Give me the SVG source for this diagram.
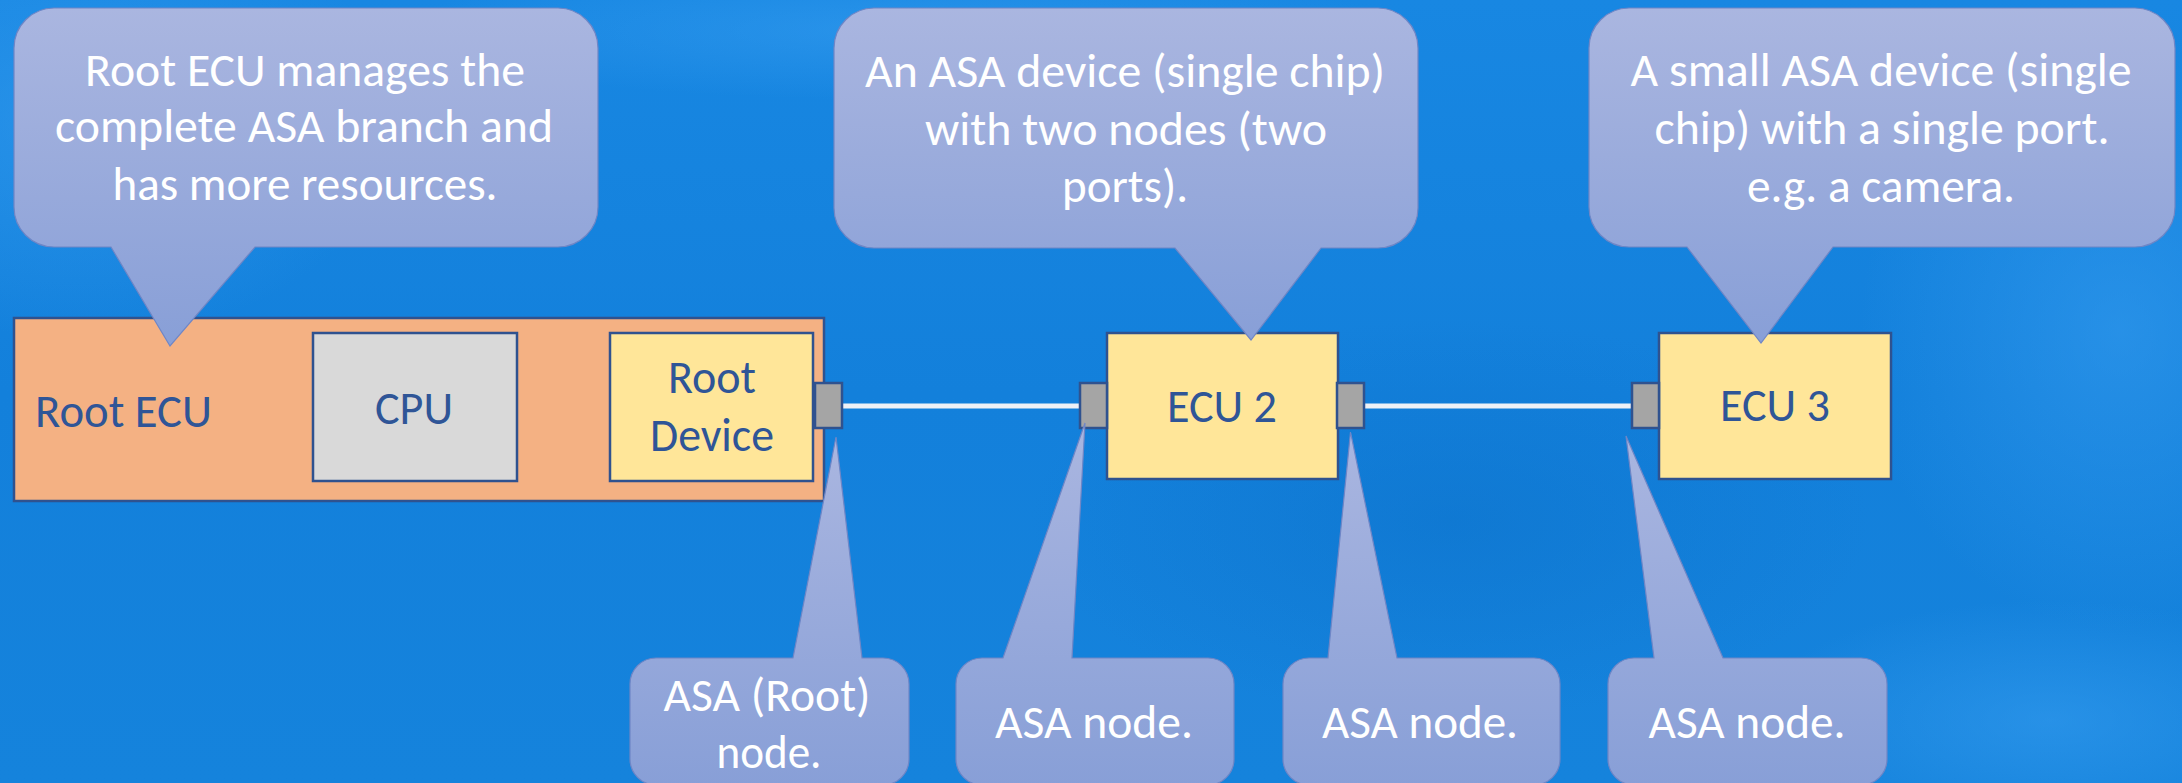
<svg xmlns="http://www.w3.org/2000/svg" width="2182" height="783" viewBox="0 0 2182 783">
  <defs>
    <linearGradient id="bg" x1="0" y1="0" x2="0" y2="1">
      <stop offset="0" stop-color="#1887E2"/>
      <stop offset="0.5" stop-color="#1380DB"/>
      <stop offset="1" stop-color="#1583DC"/>
    </linearGradient>
    <radialGradient id="glowA" cx="0.5" cy="0.5" r="0.5">
      <stop offset="0" stop-color="#3AA0F2" stop-opacity="0.5"/>
      <stop offset="1" stop-color="#3AA0F2" stop-opacity="0"/>
    </radialGradient>
    <radialGradient id="glowB" cx="0.5" cy="0.5" r="0.5">
      <stop offset="0" stop-color="#0B6FC8" stop-opacity="0.45"/>
      <stop offset="1" stop-color="#0B6FC8" stop-opacity="0"/>
    </radialGradient>
    <linearGradient id="bubble" x1="0" y1="0" x2="0" y2="1">
      <stop offset="0" stop-color="#AAB6E0"/>
      <stop offset="1" stop-color="#889FD7"/>
    </linearGradient>
    <style>
      .bubble { fill: url(#bubble); stroke: #6F86C6; stroke-width: 1.2; }
      .note { font-family: Carlito, Calibri, Lato, sans-serif; font-size: 48px; fill: #FFFFFF; text-anchor: middle; }
      .label { font-family: Carlito, Calibri, Lato, sans-serif; font-size: 48px; fill: #2F5597; text-anchor: middle; }
      .box { stroke: #2F528F; stroke-width: 2.5; }
      .ecu { fill: #F4B183; }
      .cpu { fill: #D9D9D9; }
      .dev { fill: #FFE699; }
      .port { fill: #A5A5A5; stroke: #2F528F; stroke-width: 2.5; }
      .link { stroke: #EEF1F6; stroke-width: 5; fill: none; }
      .bus { stroke: #4472C4; stroke-width: 4; fill: none; }
    </style>
  </defs>

  <!-- background -->
  <rect x="0" y="0" width="2182" height="783" fill="url(#bg)"/>
  <ellipse cx="80" cy="120" rx="320" ry="220" fill="url(#glowA)"/>
  <ellipse cx="2120" cy="330" rx="260" ry="300" fill="url(#glowA)"/>
  <ellipse cx="900" cy="30" rx="500" ry="70" fill="url(#glowA)"/>
  <ellipse cx="1450" cy="520" rx="420" ry="200" fill="url(#glowB)"/>
  <ellipse cx="2050" cy="720" rx="300" ry="120" fill="url(#glowA)"/>

  <!-- links between nodes -->
  <g id="connectors">
    <line class="bus" x1="516" y1="407" x2="610" y2="407"/>
    <line class="link" x1="842" y1="406" x2="1079" y2="406"/>
    <line class="link" x1="1364" y1="406" x2="1632" y2="406"/>
  </g>

  <!-- Root ECU with CPU and root device -->
  <g id="root-ecu">
    <rect class="box ecu" x="14" y="318" width="810" height="183"/>
    <text class="label" x="123.5" y="427" textLength="177" lengthAdjust="spacingAndGlyphs">Root ECU</text>
  </g>
  <g id="cpu">
    <rect class="box cpu" x="313" y="333" width="204" height="148"/>
    <text class="label" x="414" y="424" textLength="78" lengthAdjust="spacingAndGlyphs">CPU</text>
  </g>
  <g id="root-device">
    <rect class="box dev" x="610" y="333" width="203" height="148"/>
    <text class="label" x="712" y="393" textLength="88" lengthAdjust="spacingAndGlyphs">Root</text>
    <text class="label" x="712" y="451" textLength="124" lengthAdjust="spacingAndGlyphs">Device</text>
    <rect class="port" x="815" y="383" width="27" height="45"/>
  </g>

  <!-- ECU 2: two ports -->
  <g id="ecu2">
    <rect class="box dev" x="1107" y="333" width="231" height="146"/>
    <text class="label" x="1222" y="422" textLength="110" lengthAdjust="spacingAndGlyphs">ECU 2</text>
    <rect class="port" x="1080" y="383" width="27" height="45"/>
    <rect class="port" x="1337" y="383" width="27" height="45"/>
  </g>

  <!-- ECU 3: single port -->
  <g id="ecu3">
    <rect class="box dev" x="1659" y="333" width="232" height="146"/>
    <text class="label" x="1775" y="421" textLength="110" lengthAdjust="spacingAndGlyphs">ECU 3</text>
    <rect class="port" x="1632" y="383" width="27" height="45"/>
  </g>

  <!-- upper callouts -->
  <g id="note-root-ecu">
    <path class="bubble" d="M54,8 H558 A40,40 0 0 1 598,48 V207 A40,40 0 0 1 558,247 H255 L170,346 L111,247 H54 A40,40 0 0 1 14,207 V48 A40,40 0 0 1 54,8 Z"/>
    <text class="note" x="305" y="86" textLength="440" lengthAdjust="spacingAndGlyphs">Root ECU manages the</text>
    <text class="note" x="304" y="142" textLength="498" lengthAdjust="spacingAndGlyphs">complete ASA branch and</text>
    <text class="note" x="305" y="200" textLength="385" lengthAdjust="spacingAndGlyphs">has more resources.</text>
  </g>
  <g id="note-ecu2">
    <path class="bubble" d="M874,8 H1378 A40,40 0 0 1 1418,48 V208 A40,40 0 0 1 1378,248 H1321 L1251,340 L1175,248 H874 A40,40 0 0 1 834,208 V48 A40,40 0 0 1 874,8 Z"/>
    <text class="note" x="1125" y="87" textLength="520" lengthAdjust="spacingAndGlyphs">An ASA device (single chip)</text>
    <text class="note" x="1126" y="145" textLength="402" lengthAdjust="spacingAndGlyphs">with two nodes (two</text>
    <text class="note" x="1125" y="202" textLength="126" lengthAdjust="spacingAndGlyphs">ports).</text>
  </g>
  <g id="note-ecu3">
    <path class="bubble" d="M1629,8 H2135 A40,40 0 0 1 2175,48 V207 A40,40 0 0 1 2135,247 H1833 L1761,343 L1687,247 H1629 A40,40 0 0 1 1589,207 V48 A40,40 0 0 1 1629,8 Z"/>
    <text class="note" x="1881" y="86" textLength="501" lengthAdjust="spacingAndGlyphs">A small ASA device (single</text>
    <text class="note" x="1882" y="144" textLength="455" lengthAdjust="spacingAndGlyphs">chip) with a single port.</text>
    <text class="note" x="1881" y="202" textLength="268" lengthAdjust="spacingAndGlyphs">e.g. a camera.</text>
  </g>

  <!-- lower callouts pointing at the ports -->
  <g id="note-port-root">
    <path class="bubble" d="M656,658 H793 L836,437 L862,658 H883 A26,26 0 0 1 909,684 V759 A26,26 0 0 1 883,785 H656 A26,26 0 0 1 630,759 V684 A26,26 0 0 1 656,658 Z"/>
    <text class="note" x="767" y="711" textLength="207" lengthAdjust="spacingAndGlyphs">ASA (Root)</text>
    <text class="note" x="769" y="768" textLength="105" lengthAdjust="spacingAndGlyphs">node.</text>
  </g>
  <g id="note-port-ecu2-left">
    <path class="bubble" d="M982,658 H1003 L1085,423 L1072,658 H1208 A26,26 0 0 1 1234,684 V759 A26,26 0 0 1 1208,785 H982 A26,26 0 0 1 956,759 V684 A26,26 0 0 1 982,658 Z"/>
    <text class="note" x="1094" y="738" textLength="198" lengthAdjust="spacingAndGlyphs">ASA node.</text>
  </g>
  <g id="note-port-ecu2-right">
    <path class="bubble" d="M1309,658 H1328 L1350.5,432 L1397,658 H1534 A26,26 0 0 1 1560,684 V759 A26,26 0 0 1 1534,785 H1309 A26,26 0 0 1 1283,759 V684 A26,26 0 0 1 1309,658 Z"/>
    <text class="note" x="1420" y="738" textLength="196" lengthAdjust="spacingAndGlyphs">ASA node.</text>
  </g>
  <g id="note-port-ecu3">
    <path class="bubble" d="M1634,658 H1654 L1626,436 L1723,658 H1861 A26,26 0 0 1 1887,684 V759 A26,26 0 0 1 1861,785 H1634 A26,26 0 0 1 1608,759 V684 A26,26 0 0 1 1634,658 Z"/>
    <text class="note" x="1747" y="738" textLength="197" lengthAdjust="spacingAndGlyphs">ASA node.</text>
  </g>
</svg>
